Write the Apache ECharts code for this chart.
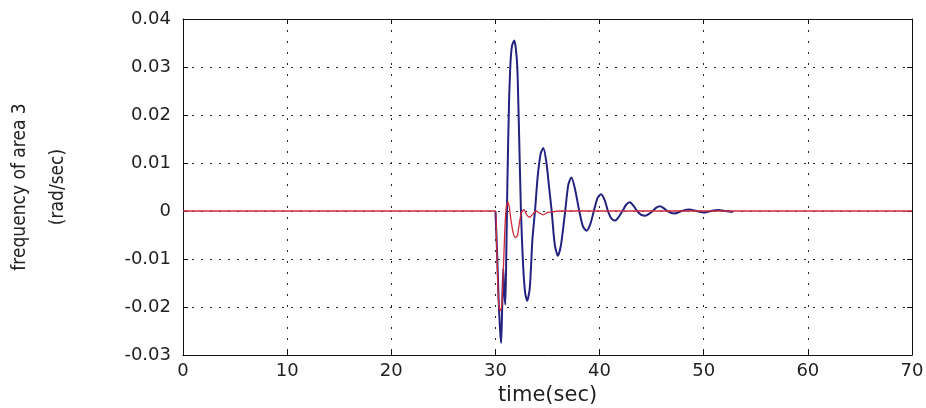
<!DOCTYPE html>
<html>
<head>
<meta charset="utf-8">
<script src="https://cdn.jsdelivr.net/npm/echarts@6/dist/echarts.min.js"></script>
<style>
html,body{margin:0;padding:0;background:#fff;}
#chart{width:926px;height:408px;}
</style>
</head>
<body>
<div id="chart"></div>
<script>
// ---- data ----
const xTicks = [0, 10, 20, 30, 40, 50, 60, 70];
const yTicks = [-0.03, -0.02, -0.01, 0, 0.01, 0.02, 0.03, 0.04];
const yTickLabels = ['-0.03', '-0.02', '-0.01', '0', '0.01', '0.02', '0.03', '0.04'];

const blueTime = [30.0, 30.15, 30.3, 30.45, 30.55, 30.65, 30.75, 30.85, 30.95, 31.05, 31.15, 31.3, 31.45, 31.6, 31.8, 31.95, 32.1, 32.25, 32.45, 32.65, 32.85, 33.05, 33.3, 33.55, 33.8, 34.05, 34.35, 34.6, 34.9, 35.15, 35.4, 35.7, 36.0, 36.3, 36.7, 37.0, 37.3, 37.65, 38.05, 38.4, 38.75, 39.1, 39.45, 39.8, 40.15, 40.5, 40.8, 41.15, 41.5, 41.85, 42.2, 42.55, 42.9, 43.25, 43.6, 44.0, 44.4, 44.75, 45.1, 45.45, 45.8, 46.15, 46.5, 46.85, 47.2, 47.9, 48.6, 49.3, 50.1, 50.7, 51.4, 52.1, 52.8];
const blueValue = [0, -0.008, -0.018, -0.025, -0.0275, -0.02, -0.012, -0.017, -0.0195, -0.008, 0.006, 0.022, 0.031, 0.0345, 0.0355, 0.034, 0.03, 0.018, 0.0, -0.011, -0.017, -0.0187, -0.016, -0.006, 0.0, 0.007, 0.012, 0.0131, 0.01, 0.005, 0.0, -0.007, -0.0093, -0.007, 0.0, 0.0055, 0.007, 0.0045, 0.0, -0.0032, -0.0041, -0.0028, 0.0, 0.0027, 0.0035, 0.0022, 0.0, -0.0016, -0.002, -0.0012, 0.0, 0.0013, 0.0018, 0.0011, 0.0, -0.0008, -0.001, -0.0006, 0.0, 0.0007, 0.001, 0.0006, 0.0, -0.0004, -0.0005, 0.0, 0.0003, 0.0, -0.0003, 0.0, 0.0002, 0.0, -0.0002];

const redTime = [0, 30.0, 30.1, 30.2, 30.3, 30.45, 30.6, 30.75, 30.9, 31.05, 31.2, 31.35, 31.5, 31.7, 31.9, 32.1, 32.3, 32.5, 32.75, 33.0, 33.3, 33.6, 33.9, 34.2, 34.6, 35.0, 35.5, 36.0, 70];
const redValue = [0, 0, -0.006, -0.013, -0.019, -0.0208, -0.02, -0.013, -0.004, 0.001, 0.0019, 0.0005, -0.002, -0.0045, -0.0055, -0.0052, -0.0025, -0.0003, 0.0003, -0.0008, -0.0013, -0.0006, 0.0, -0.0004, -0.0008, -0.0003, -0.0002, 0.0, 0];

const zip = (a, b) => a.map((v, i) => [v, b[i]]);

const fontTick = "'DejaVu Sans', sans-serif";
const fontName = "'Liberation Sans Narrow', 'DejaVu Sans Condensed', 'Liberation Sans', sans-serif";

const chart = echarts.init(document.getElementById('chart'), null, {renderer: 'canvas'});

const gridLine = (dash) => ({show: true, lineStyle: {color: '#222', width: 1, type: dash}});

chart.setOption({
  backgroundColor: '#ffffff',
  animation: false,
  grid: {left: 183, right: 14, top: 19, bottom: 53, containLabel: false, outerBoundsMode: 'none'},
  xAxis: [{
    type: 'value',
    min: xTicks[0], max: xTicks[xTicks.length - 1], interval: 10,
    axisLine: {show: true, onZero: false, lineStyle: {color: '#111', width: 1}},
    axisTick: {show: true, inside: true, length: 5, lineStyle: {color: '#111'}},
    axisLabel: {show: true, color: '#222', fontFamily: fontTick, fontSize: 18, margin: 7},
    splitLine: gridLine([2, 9]),
    name: 'time(sec)', nameLocation: 'middle', nameGap: 27,
    nameTextStyle: {color: '#222', fontFamily: fontTick, fontSize: 21}
  }, {
    type: 'value', position: 'top',
    min: xTicks[0], max: xTicks[xTicks.length - 1], interval: 10,
    axisLine: {show: true, onZero: false, lineStyle: {color: '#111', width: 1}},
    axisTick: {show: true, inside: true, length: 5, lineStyle: {color: '#111'}},
    axisLabel: {show: false}, splitLine: {show: false}
  }],
  yAxis: [{
    type: 'value',
    min: yTicks[0], max: yTicks[yTicks.length - 1], interval: 0.01,
    axisLine: {show: true, onZero: false, lineStyle: {color: '#111', width: 1}},
    axisTick: {show: true, inside: true, length: 5, lineStyle: {color: '#111'}},
    axisLabel: {
      show: true, color: '#222', fontFamily: fontTick, fontSize: 18, margin: 12,
      formatter: (v) => {
        const i = yTicks.findIndex(t => Math.abs(t - v) < 1e-9);
        return i >= 0 ? yTickLabels[i] : '';
      }
    },
    splitLine: gridLine([2, 7]),
    name: 'frequency of area 3\n(rad/sec)', nameLocation: 'middle', nameGap: 106,
    nameTextStyle: {color: '#222', fontFamily: fontName, fontSize: 19, lineHeight: 38}
  }, {
    type: 'value', position: 'right',
    min: yTicks[0], max: yTicks[yTicks.length - 1], interval: 0.01,
    axisLine: {show: true, onZero: false, lineStyle: {color: '#111', width: 1}},
    axisTick: {show: true, inside: true, length: 5, lineStyle: {color: '#111'}},
    axisLabel: {show: false}, splitLine: {show: false}
  }],
  series: [{
    type: 'line', name: 'blue', data: zip(blueTime, blueValue),
    showSymbol: false, smooth: 0.25, z: 3,
    lineStyle: {color: '#23237f', width: 2}
  }, {
    type: 'line', name: 'red', data: zip(redTime, redValue),
    showSymbol: false, smooth: 0.2, z: 4,
    lineStyle: {color: '#cc2b3b', width: 1.3}
  }]
});
</script>
</body>
</html>
